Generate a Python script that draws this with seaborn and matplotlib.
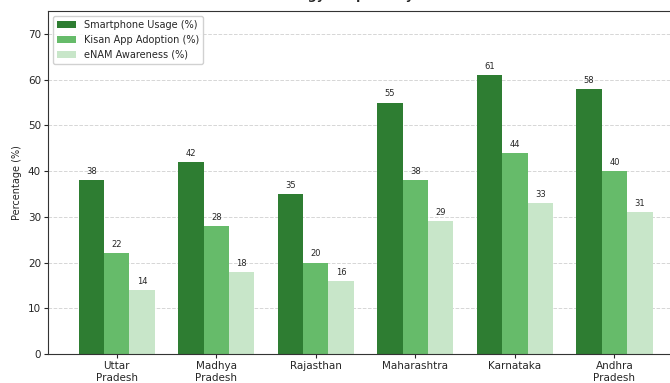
import matplotlib
matplotlib.use("Agg")
import matplotlib.pyplot as plt
import seaborn as sns
import pandas as pd

states = ["Uttar\nPradesh", "Madhya\nPradesh", "Rajasthan", "Maharashtra", "Karnataka", "Andhra\nPradesh"]
smartphone_usage = [38, 42, 35, 55, 61, 58]
kisan_app_adoption = [22, 28, 20, 38, 44, 40]
enam_awareness = [14, 18, 16, 29, 33, 31]

series_names = ["Smartphone Usage (%)", "Kisan App Adoption (%)", "eNAM Awareness (%)"]
palette = ["#2e7d32", "#66bb6a", "#c8e6c9"]

df = pd.DataFrame({
    "State": states * 3,
    "Metric": [series_names[0]] * 6 + [series_names[1]] * 6 + [series_names[2]] * 6,
    "Value": smartphone_usage + kisan_app_adoption + enam_awareness,
})

sns.set_style("ticks")
fig = plt.figure(figsize=(6.7, 3.83), dpi=100)
ax = fig.add_axes([0.0716, 0.0757, 0.948, 0.895])

sns.barplot(data=df, x="State", y="Value", hue="Metric", palette=palette,
            width=0.765, gap=0, saturation=1, ax=ax, errorbar=None,
            edgecolor="none")

for container in ax.containers:
    ax.bar_label(container, fmt="%d", fontsize=6, padding=3)

ax.set_ylim(0, 75)
ax.set_xlim(-0.69, 5.69)
ax.set_yticks(range(0, 80, 10))
ax.set_xlabel("")
ax.set_ylabel("Percentage (%)", fontsize=7, labelpad=4)
ax.tick_params(axis="both", labelsize=7.5, pad=2, length=3)
ax.grid(axis="y", linestyle="--", color="#cccccc", linewidth=0.7, alpha=0.8)
ax.set_axisbelow(True)
for side in ["top", "right", "left", "bottom"]:
    ax.spines[side].set_visible(True)
    ax.spines[side].set_color("#333333")

ax.set_title("Technology Adoption by State (%)",
             fontsize=9, fontweight="bold", pad=9)

ax.legend(loc="upper left", fontsize=7, frameon=True, framealpha=0.9,
          edgecolor="#cccccc", fancybox=True)

fig.savefig("out.png", dpi=100)
